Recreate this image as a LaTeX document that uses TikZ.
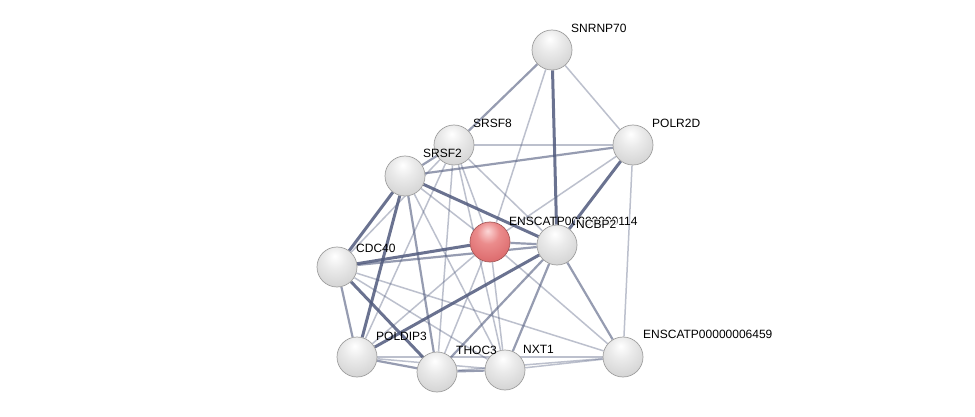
\documentclass[tikz,border=0pt]{standalone}
\usepackage{fontspec}
\setmainfont{Liberation Sans}
\pgfdeclarelayer{bg}
\pgfdeclarelayer{edges}
\pgfsetlayers{bg,edges,main}
\definecolor{edgec}{RGB}{80,90,125}
\pgfdeclareradialshading{greysphere}{\pgfpoint{-3bp}{14bp}}{%
  color(0bp)=(white); color(14bp)=(white!92!black); color(40bp)=(white!80!black);
  color(58bp)=(white!70!black); color(66bp)=(white!62!black); color(80bp)=(white!62!black)}
\pgfdeclareradialshading{redsphere}{\pgfpoint{-3bp}{14bp}}{%
  color(0bp)=(rgb,255:red,252;green,215;blue,215); color(14bp)=(rgb,255:red,235;green,140;blue,140);
  color(40bp)=(rgb,255:red,215;green,95;blue,98);
  color(58bp)=(rgb,255:red,185;green,75;blue,78); color(66bp)=(rgb,255:red,160;green,60;blue,62);
  color(80bp)=(rgb,255:red,160;green,60;blue,62)}
\begin{document}
\begin{tikzpicture}[x=1pt,y=-1pt,
  prot/.style={circle, minimum size=40pt, inner sep=0pt, shading=greysphere, draw=gray!75, line width=0.7pt},
  qprot/.style={prot, shading=redsphere, draw=red!30!gray},
  lab/.style={font=\fontsize{12}{13}\selectfont, anchor=base west, inner sep=0pt, text=black},
  ethick/.style={line width=3pt, draw=edgec, draw opacity=0.85},
  emed/.style={line width=2.2pt, draw=edgec, draw opacity=0.6},
  ethin/.style={line width=1.5pt, draw=edgec, draw opacity=0.38}]
\useasboundingbox (0,0) rectangle (975,417);
\begin{pgfonlayer}{bg}
\fill[white] (0,0) rectangle (975,417);
\end{pgfonlayer}
% proteins
\node[prot] (s70) at (552,50) {};
\node[prot] (pd) at (633,145) {};
\node[prot] (s8) at (454,145) {};
\node[prot] (s2) at (405,176) {};
\node[prot] (nc) at (557,245) {};
\node[qprot] (r) at (490,242) {};
\node[prot] (cd) at (337,267) {};
\node[prot] (po) at (357,357) {};
\node[prot] (th) at (437,372) {};
\node[prot] (nx) at (505,370) {};
\node[prot] (e6) at (623,357) {};
% labels
\node[lab] (ls70) at (571,33) {SNRNP70};
\node[lab] (lpd) at (652,128) {POLR2D};
\node[lab] (ls8) at (473,128) {SRSF8};
\node[lab] (ls2) at (423,158) {SRSF2};
\node[lab] (lr) at (509,225) {ENSCATP00000000114};
\node[lab, fill=white, fill opacity=0.85, text opacity=1, inner sep=1pt] (lnc) at (575,228) {NCBP2};
\node[lab] (lcd) at (356,252) {CDC40};
\node[lab] (lpo) at (376,340) {POLDIP3};
\node[lab] (lth) at (456,354) {THOC3};
\node[lab] (lnx) at (523,353) {NXT1};
\node[lab] (le6) at (643,338) {ENSCATP00000006459};
% edges
\begin{pgfonlayer}{edges}
\foreach \a/\b in {s70/pd, s70/r, pd/s8, pd/r, pd/e6, s8/nc, s8/cd, s8/po, s8/th, s8/nx, s8/r,
  s2/nx, s2/r, cd/nx, cd/e6, r/nx, r/e6, r/po, r/th, po/nx, po/e6, th/e6, nx/e6}
  \draw[ethin] (\a) -- (\b);
\foreach \a/\b in {s70/s8, s2/pd, s8/s2, cd/po, r/nc, nc/nx, nc/th, nc/e6, s2/th, th/nx, po/th, cd/nc}
  \draw[emed] (\a) -- (\b);
\foreach \a/\b in {s70/nc, pd/nc, s2/nc, cd/r, cd/th, po/nc, s2/cd, s2/po}
  \draw[ethick] (\a) -- (\b);
\end{pgfonlayer}
\end{tikzpicture}
\end{document}
